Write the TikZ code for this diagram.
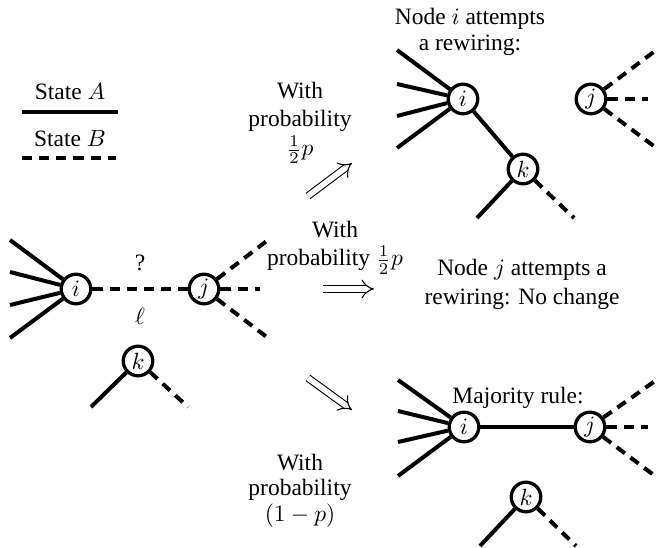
\documentclass[tikz,border=0pt]{standalone}
\usepackage{fontspec}
\setmainfont{Liberation Serif}
\usetikzlibrary{arrows.meta}
\begin{document}
\begin{tikzpicture}[x=0.426pt,y=-0.426pt,
  vtx/.style={circle,draw,fill=white,line width=1.4pt,minimum size=12.6pt,inner sep=0pt},
  stA/.style={line width=1.7pt},
  stB/.style={line width=1.7pt,dash pattern=on 4.3pt off 3pt},
  dbl/.style={double,double distance=2.4pt,line width=0.45pt,-{Implies}},
  txt/.style={anchor=base,inner sep=0pt}]
\useasboundingbox (0,0) rectangle (658,548);

% legend
\node[txt] (la) at (70,100) {State $A$};
\coordinate (la1) at (22,112); \coordinate (la2) at (118,112);
\draw[stA] (la1) -- (la2);
\node[txt] (lb) at (70,147) {State $B$};
\coordinate (lb1) at (22,158); \coordinate (lb2) at (116,158);
\draw[stB] (lb1) -- (lb2);

% left graph
\node[vtx] (i0) at (76,289) {$i$};
\node[vtx] (j0) at (204,289) {$j$};
\node[vtx] (k0) at (138,361) {$k$};
\foreach \n/\y in {1/240,2/272,3/305,4/338} {\coordinate (i0\n) at (10,\y); \draw[stA] (i0\n) -- (i0);}
\draw[stB] (i0) -- (j0);
\node (q) at (140,263) {?};
\node (ell) at (140,316) {$\ell$};
\coordinate (j01) at (268,240); \coordinate (j02) at (260,289); \coordinate (j03) at (268,338);
\foreach \n in {1,2,3} \draw[stB] (j0) -- (j0\n);
\coordinate (k01) at (91,407); \coordinate (k02) at (188,407);
\draw[stA] (k0) -- (k01); \draw[stB] (k0) -- (k02);

% arrows and probabilities
\node[txt] (w1) at (300,99) {With};
\node[txt] (p1) at (300,127) {probability};
\node (f1) at (300,150) {$\frac{1}{2}p$};
\coordinate (a1s) at (308,196); \coordinate (a1e) at (352,163);
\draw[dbl] (a1s) -- (a1e);

\node[txt] (w2) at (335,238) {With};
\node[txt] (p2) at (335,266) {probability $\frac{1}{2}p$};
\coordinate (a2s) at (323,289); \coordinate (a2e) at (374,289);
\draw[dbl] (a2s) -- (a2e);

\node[txt] (w3) at (300,471) {With};
\node[txt] (p3) at (300,496) {probability};
\node (f3) at (300,516) {$(1-p)$};
\coordinate (a3s) at (308,378); \coordinate (a3e) at (352,410);
\draw[dbl] (a3s) -- (a3e);

% top right: node i rewires
\node[txt] (t1a) at (470,25) {Node $i$ attempts};
\node[txt] (t1b) at (470,51) {a rewiring:};
\node[vtx] (i1) at (463,99) {$i$};
\node[vtx] (j1) at (591,99) {$j$};
\node[vtx] (k1) at (523,169) {$k$};
\foreach \n/\y in {1/50,2/84,3/116,4/148} {\coordinate (i1\n) at (397,\y); \draw[stA] (i1\n) -- (i1);}
\draw[stA] (i1) -- (k1);
\coordinate (j11) at (655,51); \coordinate (j12) at (648,99); \coordinate (j13) at (655,147);
\foreach \n in {1,2,3} \draw[stB] (j1) -- (j1\n);
\coordinate (k11) at (477,218); \coordinate (k12) at (574,218);
\draw[stA] (k1) -- (k11); \draw[stB] (k1) -- (k12);

% middle right
\node[txt] (t2a) at (522,276) {Node $j$ attempts a};
\node[txt] (t2b) at (522,305) {rewiring: No change};

% bottom right: majority rule
\node[txt] (t3) at (518,404) {Majority rule:};
\node[vtx] (i2) at (464,427) {$i$};
\node[vtx] (j2) at (590,427) {$j$};
\node[vtx] (k2) at (526,497) {$k$};
\foreach \n/\y in {1/380,2/411,3/442,4/476} {\coordinate (i2\n) at (398,\y); \draw[stA] (i2\n) -- (i2);}
\draw[stA] (i2) -- (j2);
\coordinate (j21) at (655,381); \coordinate (j22) at (648,427); \coordinate (j23) at (655,476);
\foreach \n in {1,2,3} \draw[stB] (j2) -- (j2\n);
\coordinate (k21) at (480,546); \coordinate (k22) at (576,546);
\draw[stA] (k2) -- (k21); \draw[stB] (k2) -- (k22);
\end{tikzpicture}
\end{document}
